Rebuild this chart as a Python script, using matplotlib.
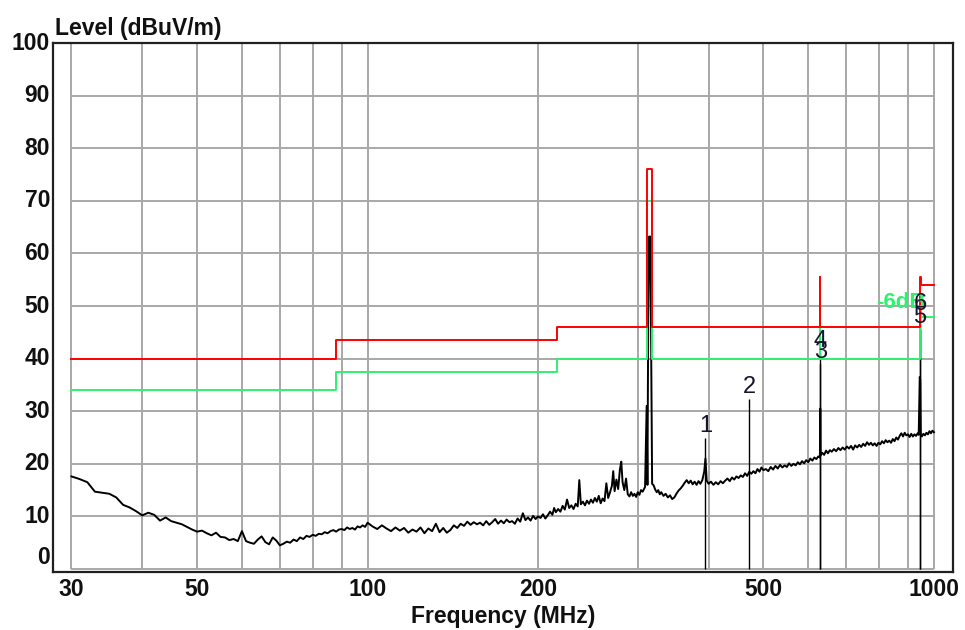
import matplotlib
matplotlib.use("Agg")
import matplotlib.pyplot as plt
import matplotlib.transforms as mtransforms

plt.rcParams['font.family'] = ['Liberation Sans', 'DejaVu Sans']

# ---------------- data ----------------
trace_freq = [
    30, 31, 32, 33, 34, 35, 36, 37, 38, 39,
    40, 41, 42, 43, 44, 45, 46, 47, 48, 49,
    50, 51, 52, 53, 54, 55, 56, 57, 58, 59,
    60, 61, 62, 63, 64, 65, 66, 67, 68, 69,
    70, 71, 72, 73, 74, 75, 76, 77, 78, 79,
    80, 81, 82, 83, 84, 85, 86, 87, 88, 89,
    90, 91, 92, 93, 94, 95, 96, 97, 98, 99,
    100, 102, 104, 106, 108, 110, 112, 114, 116, 118,
    120, 122, 124, 126, 128, 130, 132, 134, 136, 138,
    140, 142, 144, 146, 148, 150, 152, 154, 156, 158,
    160, 162, 164, 166, 168, 170, 172, 174, 176, 178,
    180, 182, 184, 186, 188, 190, 192, 194, 196, 198,
    200, 202, 204, 206, 208, 210, 212, 213.5, 215, 217,
    219, 221, 223, 225, 227, 229, 231, 233, 235, 236.5,
    238, 240, 242, 244, 246, 248, 250, 252, 254, 256,
    258, 260, 262, 264, 266, 268, 270, 271.5, 273, 275,
    277, 279, 280.5, 282, 284, 286, 288, 290, 292, 294,
    296, 298, 300, 302, 304, 306, 309, 311, 312, 313,
    314, 315.5, 316.5, 318, 320, 322, 324, 326, 328, 330,
    333, 336, 339, 342, 345, 348, 351, 354, 357, 360,
    363, 366, 369, 372, 375, 378, 381, 384, 387, 390,
    393, 395, 397, 400, 404, 408, 412, 416, 420, 424,
    428, 432, 436, 440, 444, 448, 452, 456, 460, 464,
    468, 472, 476, 480, 484, 488, 492, 496, 500, 505,
    510, 515, 520, 525, 530, 535, 540, 545, 550, 555,
    560, 565, 570, 575, 580, 585, 590, 595, 600, 605,
    610, 615, 620, 625, 629, 630, 631, 635, 640, 645,
    650, 655, 660, 666, 672, 678, 684, 690, 696, 702,
    708, 714, 720, 726, 732, 738, 744, 750, 756, 762,
    768, 774, 780, 786, 792, 798, 804, 810, 816, 822,
    828, 834, 840, 846, 852, 858, 864, 870, 876, 882,
    888, 894, 900, 906, 912, 918, 924, 930, 936, 940,
    944, 946, 948, 952, 958, 964, 970, 976, 982, 988,
    994, 1000,
]
trace_level = [
    17.6, 17.1, 16.5, 14.7, 14.5, 14.3, 13.6, 12.2, 11.7, 11.0,
    10.2, 10.7, 10.3, 9.2, 9.8, 9.1, 8.8, 8.5, 8.0, 7.5,
    7.1, 7.3, 6.8, 6.4, 6.9, 6.1, 6.0, 5.5, 5.7, 5.3,
    7.2, 5.3, 5.0, 4.8, 5.6, 6.2, 5.1, 4.7, 6.0, 5.4,
    4.5, 4.8, 5.2, 5.0, 5.6, 5.3, 6.0, 5.7, 6.3, 6.1,
    6.5, 6.3, 6.7, 6.6, 7.0, 6.8, 7.2, 7.4, 7.1, 7.5,
    7.6, 7.4, 7.9, 7.6, 7.8, 7.5, 8.1, 7.9, 8.3, 8.0,
    8.8, 8.1, 7.6, 8.3, 7.7, 7.2, 7.9, 7.3, 7.8, 6.9,
    7.5, 7.1, 7.9, 6.8, 7.7, 7.2, 8.6, 7.0, 7.8, 6.9,
    7.4, 8.3, 7.8, 8.6, 8.2, 9.0, 8.4, 8.9, 8.5, 8.8,
    8.3, 9.1, 8.4, 8.9, 9.5, 8.6, 9.2, 8.7, 9.4, 8.9,
    9.1, 8.6, 9.6, 9.0, 10.6, 9.3, 9.8, 9.2, 10.1, 9.5,
    10.0, 9.7, 10.4, 9.6, 10.2, 10.9, 10.3, 11.6, 10.8, 11.4,
    10.9, 12.0, 11.3, 13.2, 11.6, 12.1, 11.4, 12.4, 11.9, 16.9,
    12.3, 12.8, 12.1, 13.0, 12.4, 13.2, 12.6, 13.5, 12.8, 13.9,
    12.5, 13.4, 12.9, 16.3, 13.5, 14.6, 15.8, 18.6, 14.8, 17.0,
    15.2, 19.0, 20.4, 16.5, 15.0, 17.2, 14.2, 13.8, 14.6, 13.9,
    14.3, 13.7, 14.6, 14.1, 15.0, 14.7, 15.6, 31.0, 16.0, 47.7,
    63.2, 63.2, 47.5, 16.2, 15.9, 15.1, 14.6, 15.0, 14.2, 14.6,
    13.9, 14.3, 13.6, 14.0, 13.3, 13.6, 14.3, 14.9, 15.3, 15.8,
    16.4, 16.9, 16.3, 16.8, 16.1, 16.6, 16.0, 16.7, 16.2, 16.9,
    18.5, 21.0, 16.8, 16.2, 16.6, 16.0, 16.5, 16.1, 16.7, 16.3,
    16.8, 17.2, 16.7, 17.4, 17.0, 17.6, 17.3, 17.8, 17.5, 18.2,
    17.7, 18.5, 18.1, 18.6, 18.2, 19.0, 18.5, 19.3, 18.8, 19.0,
    18.6, 19.4, 18.9, 19.6, 19.1, 19.8, 19.3, 19.7, 19.4, 20.1,
    19.6, 20.0, 19.7, 20.3, 19.9, 20.5, 20.1, 20.7, 20.3, 21.0,
    20.6, 21.2, 20.9, 21.4, 21.2, 30.5, 21.6, 22.1, 21.7, 22.5,
    22.0, 22.6, 22.3, 22.8, 22.4, 23.0, 22.6, 23.1, 22.7, 23.3,
    22.9, 23.4, 22.7, 23.5, 23.1, 23.6, 23.2, 23.8, 23.4, 24.1,
    23.6, 24.0, 23.5, 23.9, 23.4, 24.0, 23.7, 24.3, 23.9, 24.5,
    24.1, 24.4, 24.0, 24.7, 24.3, 25.0, 24.6, 25.3, 25.8, 25.2,
    25.9, 25.4, 25.6, 25.1, 25.7, 25.2, 25.6, 25.3, 25.8, 25.5,
    36.5, 36.0, 25.6, 25.2, 25.7, 25.4, 25.9, 25.6, 26.2, 25.8,
    26.3, 26.0,
]

limit_freq = [30, 88, 88, 216, 216, 311, 311, 318, 318, 630, 630, 630, 944, 944, 947, 947, 1000]
limit_level = [40, 40, 43.5, 43.5, 46, 46, 76, 76, 46, 46, 55.5, 46, 46, 55.5, 55.5, 54, 54]
margin_level = [34, 34, 37.5, 37.5, 40, 40, 70, 70, 40, 40, 49.5, 40, 40, 49.5, 49.5, 48, 48]

marker_freq = [395, 472, 630, 630, 945, 945]
marker_level = [24.9, 32.3, 38.9, 41.0, 45.6, 48.0]
marker_label = ['1', '2', '3', '4', '5', '6']

x_grid = [30, 40, 50, 60, 70, 80, 90, 100, 200, 300, 400, 500, 600, 700, 800, 900, 1000]
x_ticks = [30, 50, 100, 200, 500, 1000]
y_ticks = [0, 10, 20, 30, 40, 50, 60, 70, 80, 90, 100]

RED = '#ff0000'
GREEN = '#30f070'

# ---------------- figure ----------------
fig = plt.figure(figsize=(9.65, 6.3), dpi=100)
ax = fig.add_axes([53 / 965, 1 - 572 / 630, 900 / 965, 529 / 630])
ax.set_xscale('log')
ax.set_xlim(27.83, 1080.7)
ax.set_ylim(-0.57, 100)
ax.set_xticks([])
ax.set_yticks([])
ax.minorticks_off()
for s in ax.spines.values():
    s.set_linewidth(1.6)
    s.set_color('#202020')

# grid restricted to the 30-1000 / 0-100 area
ax.vlines(x_grid, 0, 100, colors='#a8a8a8', linewidth=1.4, zorder=1)
ax.hlines(y_ticks, 30, 1000, colors='#a8a8a8', linewidth=1.4, zorder=1)

# marker lines
ax.vlines(marker_freq, 0, marker_level, colors='black', linewidth=1.0, zorder=2)

# trace
ax.plot(trace_freq, trace_level, color='black', linewidth=1.4, zorder=3)

# limit / margin lines
ax.plot(limit_freq, margin_level, color=GREEN, linewidth=1.4, zorder=4)
ax.plot(limit_freq, limit_level, color=RED, linewidth=1.4, zorder=5)

# marker labels
for f, lv, lab in zip(marker_freq, marker_level, marker_label):
    ax.text(f, lv + 1.15, lab, ha='center', va='baseline', fontsize=17,
            color='#151530', zorder=7)

ax.text(792, 50.7, '-6dB', ha='left', va='center', fontsize=16,
        fontweight='bold', color=GREEN, zorder=6)

# tick labels
ty = mtransforms.blended_transform_factory(ax.transAxes, ax.transData)
for v in y_ticks:
    yy = v + 2.2 if v == 0 else v
    ax.text(-3 / 900, yy, str(v), transform=ty, ha='right', va='center',
            fontsize=16.5, fontweight='bold', color='#101010')
tx = mtransforms.blended_transform_factory(ax.transData, ax.transAxes)
for v in x_ticks:
    ax.text(v, -17 / 529, str(v), transform=tx, ha='center', va='center',
            fontsize=16.5, fontweight='bold', color='#101010')

ax.text(2 / 900, 1 + 15 / 529, 'Level (dBuV/m)', transform=ax.transAxes,
        ha='left', va='center', fontsize=16.5, fontweight='bold', color='#101010')
ax.text(0.5, -44 / 529, 'Frequency (MHz)', transform=ax.transAxes,
        ha='center', va='center', fontsize=16.5, fontweight='bold', color='#101010')

fig.savefig('out.png', dpi=100)
